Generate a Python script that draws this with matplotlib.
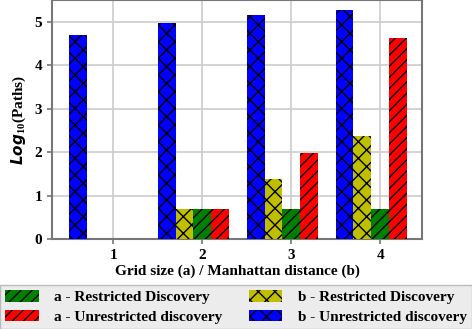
import matplotlib
matplotlib.use("Agg")
import matplotlib.pyplot as plt
import numpy as np

plt.rcParams['font.family'] = ['Liberation Serif', 'DejaVu Serif']
plt.rcParams['font.weight'] = 'bold'
plt.rcParams['axes.labelweight'] = 'bold'
plt.rcParams['hatch.linewidth'] = 1.0
plt.rcParams['mathtext.fontset'] = 'custom'
plt.rcParams['mathtext.bf'] = 'Liberation Serif:bold'
plt.rcParams['mathtext.rm'] = 'Liberation Serif'
plt.rcParams['mathtext.bfit'] = 'DejaVu Sans:italic:bold'

# values
grid = [1, 2, 3, 4]
b_unres = [4.70, 4.97, 5.15, 5.27]
b_res = [0.0, 0.69, 1.38, 2.37]
a_res = [0.0, 0.69, 0.69, 0.69]
a_unres = [0.0, 0.69, 1.97, 4.62]

fig = plt.figure(figsize=(4.72, 3.29), dpi=100)
ax = fig.add_axes([0.110, 0.2736, 0.784, 0.7264])

x = np.array(grid, dtype=float)
w = 0.2
h_a_res = ax.bar(x, a_res, w, color='g', hatch='///', label='a - Restricted Discovery', zorder=3)
h_a_unres = ax.bar(x + 0.2, a_unres, w, color='r', hatch='///', label='a - Unrestricted discovery', zorder=3)
h_b_res = ax.bar(x - 0.2, b_res, w, color='y', hatch='xx', label='b - Restricted Discovery', zorder=3)
h_b_unres = ax.bar(x - 0.4, b_unres, w, color='b', hatch='xx', label='b - Unrestricted discovery', zorder=3)

ax.set_xlim(0.31, 4.47)
ax.set_ylim(0, 5.5)
ax.set_xticks(grid)
ax.set_yticks(range(6))
ax.tick_params(labelsize=11, color='#777777', width=1.2)
ax.grid(True, color='#cccccc', linewidth=1.2, zorder=0)
for s in ax.spines.values():
    s.set_color('#777777')
    s.set_linewidth(1.5)

ax.set_xlabel('Grid size (a) / Manhattan distance (b)', fontsize=11, labelpad=2)
ax.set_ylabel(r'$\mathbfit{Log}_{\mathbf{10}}$(Paths)', fontsize=11, labelpad=5)

leg = fig.legend(handles=[h_a_res, h_a_unres, h_b_res, h_b_unres], loc='lower left',
                 bbox_to_anchor=(0.0, 0.0, 1.0, 0.14), mode='expand', ncol=2,
                 fontsize=11, facecolor='#ececec', edgecolor='#bbbbbb', framealpha=1,
                 fancybox=False, handlelength=2.2, handleheight=0.8, handletextpad=1.0,
                 borderaxespad=0.0, labelspacing=0.35, borderpad=0.35)
leg.get_frame().set_linewidth(1.0)

fig.savefig('out.png', dpi=100)
